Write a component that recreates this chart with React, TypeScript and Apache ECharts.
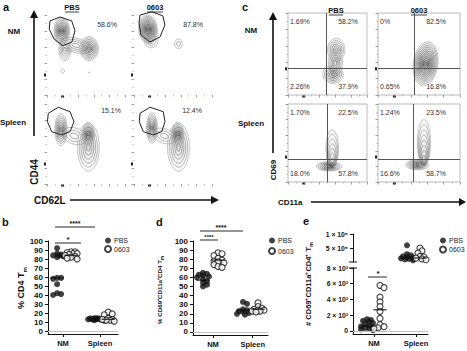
import React, { useEffect, useRef } from "react";
import * as echarts from "echarts";

const FONT = '"Liberation Sans", Arial, Helvetica, sans-serif';

// ---------------- Panel a : CD44 (y) vs CD62L (x) ----------------
// contour populations: [cx, cy, rx, ry, rings, darkness, tiltDeg, sharedBottom]
const aPbsNm = [
  [37, 62, 20, 9, 4, 0.3, -15, 0],
  [23, 57, 8, 14, 5, 0.45, 0, 0],
  [54, 58, 12, 15, 8, 0.75, 0, 0],
  [19, 80, 10, 17, 9, 1.0, 0, 0],
  [20, 30, 2.5, 2.5, 1, 0.4, 0, 0],
  [54, 28, 0.8, 0.8, 1, 0.6, 0, 0],
];
const a0603Nm = [
  [22, 68, 9, 9, 3, 0.35, 0, 0],
  [18, 82, 12, 18, 11, 1.0, 5, 0],
  [57, 64, 5, 6, 2, 0.5, 0, 0],
];
const aPbsSp = [
  [35, 60, 16, 10, 3, 0.3, -20, 0],
  [18, 68, 8, 20, 7, 0.85, 0, 0],
  [53, 46, 14, 30, 6, 0.55, 0, 0],
  [53, 62, 8, 15, 7, 1.0, 0, 0],
];
const a0603Sp = [
  [39, 60, 15, 9, 3, 0.3, -20, 0],
  [23, 70, 7, 19, 7, 0.85, 0, 0],
  [57, 46, 14, 30, 6, 0.55, 0, 0],
  [56, 62, 8, 15, 7, 1.0, 0, 0],
];
const aGatePbsNm = [[3.8, 92.6], [16.7, 97.5], [31.7, 92.6], [35.9, 80.2], [31.7, 65.8], [20.1, 61.7], [9, 70], [2.9, 82.3]];
const aGate0603Nm = [[7.7, 100], [23, 104], [37, 99], [39.7, 87.5], [33.3, 72.5], [20.5, 66.3], [9, 75], [6.4, 90]];
const aGatePbsSp = [[1.7, 88.4], [14.5, 95.9], [29.5, 90.4], [34.6, 77.9], [29.5, 65.4], [18.8, 61.3], [6, 65.4], [0.5, 77.9]];
const aGate0603Sp = [[7.7, 88.4], [20.5, 95.9], [37.6, 90.4], [39.7, 77.9], [35.5, 65.4], [24.7, 61.3], [11.9, 65.4], [6.8, 77.9]];
const aPercent = ["58.6%", "87.8%", "15.1%", "12.4%"];

// ---------------- Panel c : CD69 (y) vs CD11a (x) ----------------
const cPbsNm = [
  [61, 55, 11, 14, 6, 0.6, 0, 0],
  [60, 39, 9, 16, 5, 0.6, 0, 0],
  [57, 25, 13, 11, 6, 0.85, 0, 0],
];
const c0603Nm = [[58, 38, 15, 27, 12, 0.85, -8, 0]];
const cPbsSp = [
  [56, 19, 8, 24, 8, 0.45, 0, 1],
  [52, 20, 16, 6, 7, 1.0, 0, 0],
];
const c0603Sp = [
  [56, 21, 8, 29.5, 9, 0.45, 0, 1],
  [48, 22, 14, 6.4, 7, 1.0, 0, 0],
];
const cQuadrants = [[49, 33], [44, 33], [50, 29], [43, 29]];
const cPercent = [
  ["1.69%", "58.2%", "2.26%", "37.9%"],
  ["0%", "82.5%", "0.65%", "16.8%"],
  ["1.70%", "22.5%", "18.0%", "57.8%"],
  ["1.24%", "23.5%", "16.6%", "58.7%"],
];

// ---------------- Dot plots ----------------
const categories = ["NM", "Spleen"];
const groupNames = ["PBS", "0603"];

const bNmPbs = [92, 86, 85, 84, 84, 83, 82, 59, 59, 58, 52, 42, 41, 40];
const bNm0603 = [88, 88, 87, 86, 86, 85, 84, 83, 82, 81, 80];
const bSpPbs = [14, 14, 14, 13, 13, 13, 13, 12, 14];
const bSp0603 = [21, 19, 18, 14, 13, 12, 12, 11, 12, 13];
const bMid = [59, 84, 13.5, 13];
const bTicks = [0, 10, 20, 30, 40, 50, 60, 70, 80, 90, 100];

const dNmPbs = [65, 64, 63, 62, 61, 60, 58, 56, 54, 52, 50];
const dNm0603 = [87, 86, 84, 81, 79, 78, 77, 76, 74, 72, 71];
const dSpPbs = [33, 31, 25, 24, 23, 22, 21, 20, 19];
const dSp0603 = [32, 28, 26, 25, 24, 24, 23, 23, 22];
const dMid = [57, 79, 24, 25];
const dTicks = [0, 10, 20, 30, 40, 50, 60, 70, 80, 90, 100];

const eNmPbs = [1500, 1400, 1300, 1200, 1000, 900, 700, 600, 500, 400, 300, 200, 100];
const eNm0603 = [5800, 5500, 4300, 3700, 3100, 2500, 1600, 800, 550, 400, 300];
const eSpPbs = [596000, 280000, 240000, 200000, 170000, 150000, 130000, 110000, 90000, 60000];
const eSp0603 = [500000, 400000, 320000, 200000, 180000, 140000, 110000, 80000];
const eMid = [600, 2700, 143000, 143000];
const eUpperTicks = [500000, 1000000];
const eUpperLabels = ["5 × 10⁵", "1 × 10⁶"];
const eLowerTicks = [0, 2000, 4000, 6000, 8000];
const eLowerLabels = ["0", "2 × 10³", "4 × 10³", "6 × 10³", "8 × 10³"];

// ---------------- layout ----------------
const flowGrids = [
  { left: 47, top: 15, width: 78, height: 80 },
  { left: 134, top: 15, width: 78, height: 80 },
  { left: 47, top: 104, width: 78, height: 80 },
  { left: 134, top: 104, width: 78, height: 80 },
  { left: 288, top: 13, width: 79, height: 82 },
  { left: 378, top: 13, width: 82, height: 82 },
  { left: 288, top: 104, width: 79, height: 78 },
  { left: 378, top: 104, width: 82, height: 78 },
];
const dotGrids = [
  { left: 48, top: 241, width: 70, height: 93 },
  { left: 193, top: 241, width: 75, height: 94 },
  { left: 353, top: 234, width: 75, height: 28 },
  { left: 353, top: 268, width: 75, height: 66 },
];

// compact beeswarm (pixel space), offsets limited to a narrow column
function swarm(vals: number[], cx: number, pxX: number, pxY: number): number[][] {
  const minD = 3.4;
  const step = 2;
  const maxOff = 6;
  const placed: number[][] = [];
  return vals.map((v) => {
    const py = v * pxY;
    let best = 0;
    let bestD = -1;
    for (let k = 0; k < 20; k++) {
      const cand = k === 0 ? 0 : (k % 2 ? 1 : -1) * Math.ceil(k / 2) * step;
      if (Math.abs(cand) > maxOff) break;
      const d = placed.length ? Math.min(...placed.map(([ox, oy]) => Math.hypot(ox - cand, oy - py))) : 99;
      if (d >= minD) {
        best = cand;
        bestD = d;
        break;
      }
      if (d > bestD) {
        bestD = d;
        best = cand;
      }
    }
    placed.push([best, py]);
    return [cx + best / pxX, v];
  });
}

const contourRender = (params: any, api: any) => {
  const c = api.coord([api.value(0), api.value(1)]);
  const s = api.size([api.value(2), api.value(3)]);
  const n = api.value(4);
  const dark = api.value(5);
  const rot = api.value(6);
  const anchor = api.value(7);
  const children: any[] = [];
  for (let k = n; k >= 1; k--) {
    const f = k / n;
    const g = Math.round(175 - (1 - f) * 135 * dark);
    const ry = s[1] * f;
    children.push({
      type: "ellipse",
      shape: { cx: 0, cy: anchor ? -ry : 0, rx: s[0] * f, ry },
      style: { fill: `rgba(90,90,90,${0.04 * dark})`, stroke: `rgb(${g},${g},${g})`, lineWidth: 0.75 },
    });
  }
  return { type: "group", x: c[0], y: c[1], rotation: (rot * Math.PI) / 180, children };
};

const T = (x: number, y: number, text: string, size: number, weight = "normal", align = "center", rot = 0, extra: any = {}) => ({
  type: "text",
  x,
  y,
  rotation: rot,
  silent: true,
  style: { text, fontFamily: FONT, fontSize: size, fontWeight: weight, fill: "#111", align, verticalAlign: "middle", ...extra },
});
const L = (x1: number, y1: number, x2: number, y2: number, w = 1, color = "#111") => ({
  type: "line",
  silent: true,
  shape: { x1, y1, x2, y2 },
  style: { stroke: color, lineWidth: w },
});
const P = (pts: number[][]) => ({ type: "polygon", silent: true, shape: { points: pts }, style: { fill: "#111" } });
const R = (x: number, y: number, w: number, h: number) => ({ type: "rect", silent: true, shape: { x, y, width: w, height: h }, style: { fill: "#222" } });

const subName = (x: number, y: number, main: string, size: number, sub: number) =>
  T(x, y, `{m|${main}}{s|m}`, size, "bold", "center", Math.PI / 2, {
    rich: {
      m: { fontSize: size, fontWeight: "bold", fontFamily: FONT, lineHeight: size + 2, verticalAlign: "top", fill: "#111" },
      s: { fontSize: sub, fontWeight: "bold", fontFamily: FONT, lineHeight: sub, padding: [Math.round(size * 0.6), 0, 0, 0], verticalAlign: "bottom", fill: "#111" },
    },
  });

function buildOption() {
  const grids: any[] = [];
  const xAxes: any[] = [];
  const yAxes: any[] = [];
  const series: any[] = [];

  // flow plots
  const pops = [aPbsNm, a0603Nm, aPbsSp, a0603Sp, cPbsNm, c0603Nm, cPbsSp, c0603Sp];
  flowGrids.forEach((g, i) => {
    const framed = i >= 4;
    grids.push({ ...g, show: framed, borderColor: "#a8a8a8", borderWidth: 0.8, backgroundColor: "transparent", outerBoundsMode: "none" });
    const common = {
      type: "value",
      gridIndex: i,
      min: 0,
      max: 100,
      interval: 20,
      axisLine: { show: false, onZero: false },
      axisLabel: { show: false },
      splitLine: { show: false },
      axisTick: { show: true, length: 2.5, lineStyle: { color: "#777", width: 0.7 } },
      minorTick: { show: true, splitNumber: 2, length: 1.5, lineStyle: { color: "#999", width: 0.6 } },
    };
    xAxes.push({ ...common });
    yAxes.push({ ...common });
    const s: any = {
      type: "custom",
      xAxisIndex: i,
      yAxisIndex: i,
      renderItem: contourRender,
      encode: { x: 0, y: 1 },
      data: pops[i],
      silent: true,
      z: 2,
    };
    if (framed) {
      const q = cQuadrants[i - 4];
      s.markLine = {
        silent: true,
        symbol: ["none", "none"],
        label: { show: false },
        lineStyle: { color: "#555", width: 1, type: "solid" },
        data: [{ xAxis: q[0] }, { yAxis: q[1] }],
        z: 3,
      };
    }
    series.push(s);
  });
  [aGatePbsNm, aGate0603Nm, aGatePbsSp, aGate0603Sp].forEach((gate, i) => {
    series.push({
      type: "line",
      xAxisIndex: i,
      yAxisIndex: i,
      data: [...gate, gate[0]],
      symbol: "none",
      clip: false,
      silent: true,
      lineStyle: { color: "#222", width: 1 },
      z: 5,
    });
  });

  // dot panels
  const dotX = (gi: number, ticks: number[], show = true) => ({
    type: "value",
    gridIndex: gi,
    min: 0,
    max: 10,
    show,
    axisLine: { show: true, onZero: false, lineStyle: { color: "#111", width: 1 } },
    axisTick: { show: true, customValues: ticks, length: 3, lineStyle: { color: "#111" } },
    axisLabel: {
      show: true,
      customValues: ticks,
      margin: 5,
      fontFamily: FONT,
      fontSize: 7.5,
      fontWeight: "bold",
      color: "#111",
      formatter: (v: number) => (Math.abs(v - ticks[0]) < 0.01 ? categories[0] : categories[1]),
    },
    splitLine: { show: false },
  });
  const dotY = (gi: number, min: number, max: number, ticks: number[], labels: string[] | null, size: number) => ({
    type: "value",
    gridIndex: gi,
    min,
    max,
    axisLine: { show: true, onZero: false, lineStyle: { color: "#111", width: 1 } },
    axisTick: { show: true, customValues: ticks, length: 3, lineStyle: { color: "#111" } },
    axisLabel: {
      show: true,
      customValues: ticks,
      margin: 5,
      fontFamily: FONT,
      fontSize: size,
      fontWeight: "bold",
      color: "#111",
      formatter: (v: number) => {
        if (!labels) return String(v);
        const k = ticks.findIndex((t) => Math.abs(t - v) < 1e-6);
        return k >= 0 ? labels[k] : "";
      },
    },
    splitLine: { show: false },
  });

  dotGrids.forEach((g) => grids.push({ ...g, outerBoundsMode: "none" }));
  const bX = [1.3, 3.3, 6.6, 8.6];
  const bT = [2.14, 7.43];
  xAxes.push(dotX(8, bT));
  yAxes.push(dotY(8, -3.33, 100, bTicks, null, 8));
  const dX = [1.33, 3.33, 6.67, 8.67];
  const dT = [2.67, 7.96];
  xAxes.push(dotX(9, dT));
  yAxes.push(dotY(9, -3.3, 100, dTicks, null, 8));
  const eX = [1.87, 3.6, 7.2, 8.93];
  const eT = [2.8, 8.4];
  xAxes.push(dotX(10, eT, false));
  yAxes.push(dotY(10, 0, 1000000, eUpperTicks, eUpperLabels, 6.8));
  xAxes.push(dotX(11, eT));
  yAxes.push(dotY(11, -381, 8000, eLowerTicks, eLowerLabels, 6.8));

  const dotStyle = (k: number) =>
    k === 0 ? { color: "#111" } : { color: "#fff", borderColor: "#111", borderWidth: 1.1 };
  const zeroLine = {
    silent: true,
    symbol: ["none", "none"],
    label: { show: false },
    lineStyle: { color: "#c4c4c4", width: 1, type: "solid" },
    data: [{ yAxis: 0 }],
  };

  const panels = [
    { vals: [bNmPbs, bNm0603, bSpPbs, bSp0603], xs: bX, mids: bMid, grids: [8, 8, 8, 8], pxX: 7, pxY: [0.9, 0.9, 0.9, 0.9] },
    { vals: [dNmPbs, dNm0603, dSpPbs, dSp0603], xs: dX, mids: dMid, grids: [9, 9, 9, 9], pxX: 7.5, pxY: [0.91, 0.91, 0.91, 0.91] },
    { vals: [eNmPbs, eNm0603, eSpPbs, eSp0603], xs: eX, mids: eMid, grids: [11, 11, 10, 10], pxX: 7.5, pxY: [0.007875, 0.007875, 28e-6, 28e-6] },
  ];
  panels.forEach((p) => {
    p.vals.forEach((vals, j) => {
      const k = j % 2;
      const gi = p.grids[j];
      const s: any = {
        type: "scatter",
        name: groupNames[k],
        xAxisIndex: gi,
        yAxisIndex: gi,
        symbol: "circle",
        symbolSize: 6,
        clip: false,
        itemStyle: dotStyle(k),
        data: swarm(vals, p.xs[j], p.pxX, p.pxY[j]),
        z: k === 0 ? 3 : 4,
        silent: true,
      };
      if (j === 0) s.markLine = zeroLine;
      series.push(s);
      series.push({
        type: "scatter",
        xAxisIndex: gi,
        yAxisIndex: gi,
        symbol: "rect",
        symbolSize: [13, 1.4],
        clip: false,
        itemStyle: { color: "#111" },
        data: [[p.xs[j], p.mids[j]]],
        z: 6,
        silent: true,
      });
    });
  });

  const legend = (left: number, gap: number) => ({
    data: groupNames,
    orient: "vertical",
    left,
    top: 237,
    padding: 0,
    itemWidth: 6,
    itemHeight: 6,
    itemGap: gap,
    selectedMode: false,
    icon: "circle",
    textStyle: { fontFamily: FONT, fontSize: 7, color: "#222", padding: [0, 0, 0, -2] },
  });

  // annotations
  const g: any[] = [];
  g.push(T(3, 7, "a", 11, "bold", "left"), T(242, 7, "c", 11, "bold", "left"));
  g.push(T(2, 222, "b", 11, "bold", "left"), T(156, 222, "d", 11, "bold", "left"), T(303, 221, "e", 11, "bold", "left"));
  g.push(T(72, 7, "PBS", 7.5, "bold"), L(65, 12, 79, 12, 0.8), T(155, 7, "0603", 7.5, "bold"), L(147, 12, 163, 12, 0.8));
  g.push(T(336, 10, "PBS", 7.5, "bold"), L(329, 15, 343, 15, 0.8), T(419, 10, "0603", 7.5, "bold"), L(411, 15, 427, 15, 0.8));
  g.push(T(14, 31, "NM", 8, "bold"), T(13, 122, "Spleen", 8, "bold"), T(251, 30, "NM", 8, "bold"), T(251, 123, "Spleen", 8, "bold"));
  g.push(L(34, 136, 34, 16, 1.6), P([[30, 18], [38, 18], [34, 10]]), T(34, 172, "CD44", 10, "bold", "center", Math.PI / 2));
  g.push(T(34, 200, "CD62L", 10, "bold", "left"), L(70, 200, 212, 200, 1.6), P([[211, 196], [211, 204], [219, 200]]));
  g.push(L(273, 153, 273, 18, 1.6), P([[269, 20], [277, 20], [273, 12]]), T(273, 170, "CD69", 8, "bold", "center", Math.PI / 2));
  g.push(T(278, 202, "CD11a", 8, "bold", "left"), L(311, 202, 459, 202, 1.6), P([[459, 198], [459, 206], [466, 202]]));
  // zero markers on the flow axes
  flowGrids.forEach((fg, i) => {
    const yMark = i < 4 ? fg.top + fg.height * 0.75 : fg.top + fg.height * 0.68;
    g.push(R(fg.left - 3, yMark - 1.5, 2, 3), R(fg.left + fg.width * 0.2 - 1.5, fg.top + fg.height + 0.5, 3, 2));
  });
  const aPos = [[117, 24], [203, 24], [121, 110], [202, 110]];
  aPercent.forEach((t, i) => g.push(T(aPos[i][0], aPos[i][1], t, 7, "normal", "right", 0, { fill: "#333" })));
  cPercent.forEach((arr, i) => {
    const fg = flowGrids[4 + i];
    const leftX = fg.left + 2;
    const rightX = i % 2 === 0 ? 358 : 446;
    const topY = fg.top + 8;
    const botY = fg.top + fg.height - 8.5;
    g.push(T(leftX, topY, arr[0], 7, "normal", "left", 0, { fill: "#333" }));
    g.push(T(rightX, topY, arr[1], 7, "normal", "right", 0, { fill: "#333" }));
    g.push(T(leftX, botY, arr[2], 7, "normal", "left", 0, { fill: "#333" }));
    g.push(T(rightX, botY, arr[3], 7, "normal", "right", 0, { fill: "#333" }));
  });
  g.push(subName(22, 288, "% CD4 T", 9, 6));
  g.push(subName(161, 290, "% CD69⁺CD11a⁺CD4 T", 6.2, 4.5));
  g.push(subName(309, 284, "# CD69⁺CD11a⁺CD4⁺ T", 7.5, 5.5));
  g.push(L(55, 227, 95, 227, 0.9), T(75, 223, "****", 7, "bold"), L(55, 243, 81, 243, 0.9), T(68, 239.5, "*", 8, "bold"));
  g.push(L(200, 231, 243, 231, 0.9), T(221, 227.5, "****", 7, "bold"), L(200, 240, 218, 240, 0.9), T(209, 236.5, "****", 6, "bold"));
  g.push(L(368, 277, 387, 277, 0.9), T(378, 273.5, "*", 8, "bold"));
  g.push(L(349, 262, 357, 262, 1), L(349, 268, 357, 268, 1));

  return {
    animation: false,
    backgroundColor: "#fff",
    textStyle: { fontFamily: FONT },
    grid: grids,
    xAxis: xAxes,
    yAxis: yAxes,
    legend: [legend(104, 1), legend(268, 3), legend(439, 1.5)],
    series,
    graphic: { elements: g },
  };
}

export default function App() {
  const ref = useRef<HTMLDivElement>(null);
  useEffect(() => {
    if (!ref.current) return;
    const chart = echarts.init(ref.current, undefined, { renderer: "svg" });
    chart.setOption(buildOption() as any);
    return () => chart.dispose();
  }, []);
  return (
    <div
      ref={ref}
      style={{ position: "fixed", left: 0, top: 0, width: 467, height: 351, background: "#fff" }}
    />
  );
}
